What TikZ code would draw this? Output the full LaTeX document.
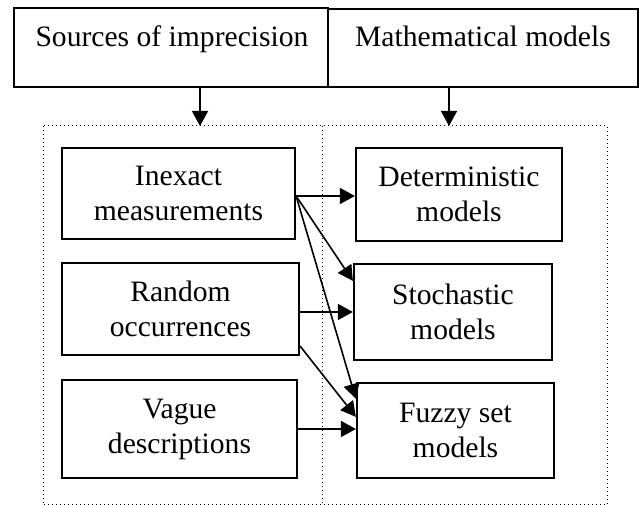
\documentclass[tikz,border=0pt]{standalone}
\usepackage{fontspec}
\setmainfont{Liberation Serif}
\usetikzlibrary{arrows.meta,calc}
\begin{document}
\begin{tikzpicture}[x=0.5pt,y=-0.5pt,
  txt/.style={font=\fontsize{14.8pt}{17.5pt}\selectfont},
  box/.style={draw,line width=1.1pt,rectangle,inner sep=0pt,align=center,txt},
  frame/.style={line width=0.5pt,dash pattern=on 0.5pt off 1.5pt},
  arr/.style={line width=0.8pt,-{Triangle[length=7.5pt,width=8pt]}}]
\useasboundingbox (0,0) rectangle (639,506);
% top boxes
\node[box,minimum width=157pt,minimum height=39.5pt] (src) at (171,47.5) {};
\node[box,minimum width=155pt,minimum height=39pt] (math) at (483,48) {};
\node[txt,anchor=base] (srct) at (172,47) {Sources of imprecision};
\node[txt,anchor=base] (matht) at (483,47) {Mathematical models};
% dotted frame
\coordinate (ftl) at (43,126);
\coordinate (fbr) at (607,505);
\coordinate (fmt) at (322,126);
\coordinate (fmb) at (322,505);
\draw[frame] (ftl) rectangle (fbr);
\draw[frame] (fmt) -- (fmb);
\coordinate (fl) at (200,126);
\coordinate (fr) at (449,126);
\draw[arr] (fl |- src.south) -- (fl);
\draw[arr] (fr |- math.south) -- (fr);
% left boxes
\node[box,minimum width=116.5pt,minimum height=45.5pt] (inex) at (178.5,193.5) {Inexact\\measurements};
\node[box,minimum width=118.5pt,minimum height=46pt] (rand) at (180.5,309) {Random\\occurrences};
\node[box,minimum width=117.5pt,minimum height=49pt] (vague) at (179.5,429) {Vague\\descriptions};
% right boxes
\node[box,minimum width=103pt,minimum height=46.5pt] (det) at (459,194.5) {Deterministic\\models};
\node[box,minimum width=99pt,minimum height=48pt] (stoch) at (453,312) {Stochastic\\models};
\node[box,minimum width=98.5pt,minimum height=47.5pt] (fuzzy) at (455.5,430.5) {Fuzzy set\\models};
% connectors
\coordinate (ie) at ($(inex.east)+(0,2.5)$);
\draw[arr] (ie) -- (ie -| det.west);
\draw[arr] (ie) -- ($(stoch.north west)+(0,18)$);
\draw[arr] (ie) -- ($(fuzzy.north west)+(0,17)$);
\draw[arr] (rand.east |- stoch.west) -- (stoch.west);
\draw[arr] ($(rand.south east)+(0,-10)$) -- ($(fuzzy.north west)+(0,35)$);
\draw[arr] (vague.east) -- (vague.east -| fuzzy.west);
\end{tikzpicture}
\end{document}
